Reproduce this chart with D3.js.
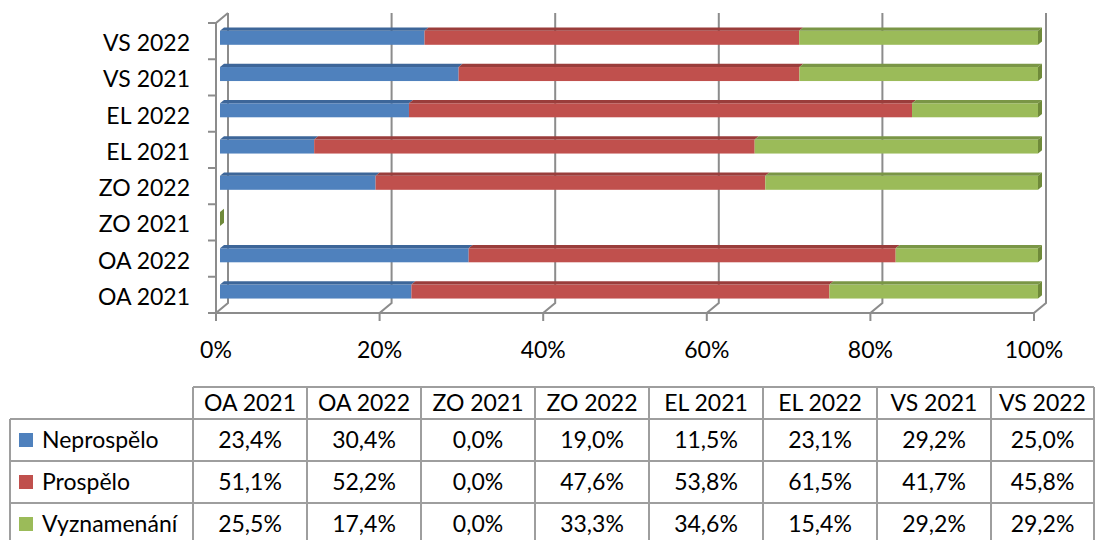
<!DOCTYPE html>
<html>
<head>
<meta charset="utf-8">
<script src="https://cdn.jsdelivr.net/npm/d3@7/dist/d3.min.js"></script>
<style>
  body { margin: 0; background: #fff; }
  text { font-family: Lato, "Open Sans", sans-serif; fill: #000; }
</style>
</head>
<body>
<div id="plot"></div>
<script>
var categories = ["OA 2021", "OA 2022", "ZO 2021", "ZO 2022", "EL 2021", "EL 2022", "VS 2021", "VS 2022"];
var seriesNames = ["Neprospělo", "Prospělo", "Vyznamenání"];
var neprospelo = [23.4, 30.4, 0.0, 19.0, 11.5, 23.1, 29.2, 25.0];
var prospelo = [51.1, 52.2, 0.0, 47.6, 53.8, 61.5, 41.7, 45.8];
var vyznamenani = [25.5, 17.4, 0.0, 33.3, 34.6, 15.4, 29.2, 29.2];
var tickValues = [0, 0.2, 0.4, 0.6, 0.8, 1];

var colors = ["#4F81BD", "#C0504D", "#9BBB59"];
var topColors = ["#3D6699", "#9A3D3B", "#7A9646"];
var sideColor = "#6F8A3A";
var lineColor = "#8C8C8C";
var fontSize = 23;

var width = 1096, height = 540;
var svg = d3.select("#plot")
  .append("svg")
  .attr("width", width)
  .attr("height", height);

// 3d depth of the plot box
var dx = 12, dy = -10;
var x = d3.scaleLinear().domain([0, 1]).range([216, 1034]);
var y = d3.scaleBand().domain(categories).range([313, 23]);
var fmtPct = d3.format(".0%");

var rows = categories.map(function (c, i) {
  return { cat: c, "Neprospělo": neprospelo[i], "Prospělo": prospelo[i], "Vyznamenání": vyznamenani[i] };
});
var stacked = d3.stack().keys(seriesNames).offset(d3.stackOffsetExpand)(rows);

var yTop = y.range()[1], yBot = y.range()[0];

// back wall gridlines + floor lines
svg.append("g")
  .selectAll("path")
  .data(tickValues)
  .enter()
  .append("path")
  .attr("d", function (d) {
    return "M" + (x(d) + dx) + "," + (yTop + dy) + "V" + (yBot + dy) + "L" + x(d) + "," + yBot + "V" + (yBot + 8);
  })
  .attr("fill", "none")
  .attr("stroke", lineColor)
  .attr("stroke-width", 2);

// floor front edge and left wall
svg.append("path")
  .attr("d", "M" + x(1) + "," + yBot + "H" + x(0) + "V" + yTop + "L" + (x(0) + dx) + "," + (yTop + dy))
  .attr("fill", "none")
  .attr("stroke", lineColor)
  .attr("stroke-width", 2);

// category ticks
var bounds = categories.map(function (c) { return y(c); }).concat([yBot]);
svg.append("g")
  .selectAll("line")
  .data(bounds)
  .enter()
  .append("line")
  .attr("x1", x(0) - 8)
  .attr("x2", x(0))
  .attr("y1", function (d) { return d; })
  .attr("y2", function (d) { return d; })
  .attr("stroke", lineColor)
  .attr("stroke-width", 2);

// x labels
svg.append("g")
  .selectAll("text")
  .data(tickValues)
  .enter()
  .append("text")
  .attr("x", function (d) { return x(d); })
  .attr("y", 358)
  .attr("text-anchor", "middle")
  .style("font-size", fontSize + "px")
  .text(function (d) { return fmtPct(d); });

// y labels
svg.append("g")
  .selectAll("text")
  .data(categories)
  .enter()
  .append("text")
  .attr("x", 190)
  .attr("y", function (d) { return y(d) + y.bandwidth() / 2 + 10; })
  .attr("text-anchor", "end")
  .style("font-size", fontSize + "px")
  .text(function (d) { return d; });

// bars
var bx = dx / 3, by = dy / 3, barH = 14;
function barY(cat) { return y(cat) + y.bandwidth() / 2 + by - barH / 2; }

stacked.forEach(function (s, si) {
  var g = svg.append("g");
  g.selectAll("rect")
    .data(s)
    .enter()
    .append("rect")
    .attr("x", function (d) { return x(d[0]) + bx; })
    .attr("y", function (d) { return barY(d.data.cat); })
    .attr("width", function (d) { return x(d[1]) - x(d[0]); })
    .attr("height", barH)
    .attr("fill", colors[si]);
  g.selectAll("polygon")
    .data(s)
    .enter()
    .append("polygon")
    .attr("points", function (d) {
      var x0 = x(d[0]) + bx, x1 = x(d[1]) + bx, t = barY(d.data.cat);
      return [[x0, t], [x1, t], [x1 + bx, t + by], [x0 + bx, t + by]].join(" ");
    })
    .attr("fill", topColors[si]);
  if (si === stacked.length - 1) {
    g.selectAll(".side")
      .data(s)
      .enter()
      .append("polygon")
      .attr("class", "side")
      .attr("points", function (d) {
        var x1 = x(d[1]) + bx, t = barY(d.data.cat);
        return [[x1, t], [x1 + bx, t + by], [x1 + bx, t + by + barH], [x1, t + barH]].join(" ");
      })
      .attr("fill", sideColor);
  }
});

// data table
var values = [neprospelo, prospelo, vyznamenani];
var col = d3.scaleBand().domain(categories).range([193, 1105]);
var rowTops = [419, 461, 503];
var rowH = 42, headTop = 387, tableRight = 1094;
var fmtVal = function (v) { return d3.format(".1f")(v).replace(".", ",") + "%"; };
function colRight(c) { return Math.min(col(c) + col.bandwidth(), tableRight); }
function colMid(c) { return (col(c) + colRight(c)) / 2; }

var tg = svg.append("g");
var borders = [];
borders.push([col.range()[0], headTop, tableRight, headTop]);
rowTops.forEach(function (t) { borders.push([10, t, tableRight, t]); });
borders.push([10, rowTops[2] + rowH, tableRight, rowTops[2] + rowH]);
borders.push([10, rowTops[0], 10, rowTops[2] + rowH]);
categories.forEach(function (c) { borders.push([col(c), headTop, col(c), rowTops[2] + rowH]); });
borders.push([tableRight, headTop, tableRight, rowTops[2] + rowH]);

tg.selectAll("line")
  .data(borders)
  .enter()
  .append("line")
  .attr("x1", function (d) { return d[0]; })
  .attr("y1", function (d) { return d[1]; })
  .attr("x2", function (d) { return d[2]; })
  .attr("y2", function (d) { return d[3]; })
  .attr("stroke", "#9E9E9E")
  .attr("stroke-width", 2);

tg.selectAll(".head")
  .data(categories)
  .enter()
  .append("text")
  .attr("class", "head")
  .attr("x", function (d) { return colMid(d); })
  .attr("y", headTop + 16 + 8)
  .attr("text-anchor", "middle")
  .style("font-size", fontSize + "px")
  .text(function (d) { return d; });

seriesNames.forEach(function (name, si) {
  var cy = rowTops[si] + rowH / 2;
  tg.append("rect")
    .attr("x", 19)
    .attr("y", cy - 7)
    .attr("width", 14)
    .attr("height", 14)
    .attr("fill", colors[si]);
  tg.append("text")
    .attr("x", 42)
    .attr("y", cy + 8)
    .style("font-size", fontSize + "px")
    .text(name);
  tg.append("g")
    .selectAll("text")
    .data(values[si])
    .enter()
    .append("text")
    .attr("x", function (d, i) { return colMid(categories[i]); })
    .attr("y", cy + 8)
    .attr("text-anchor", "middle")
    .style("font-size", fontSize + "px")
    .text(function (d) { return fmtVal(d); });
});
</script>
</body>
</html>
